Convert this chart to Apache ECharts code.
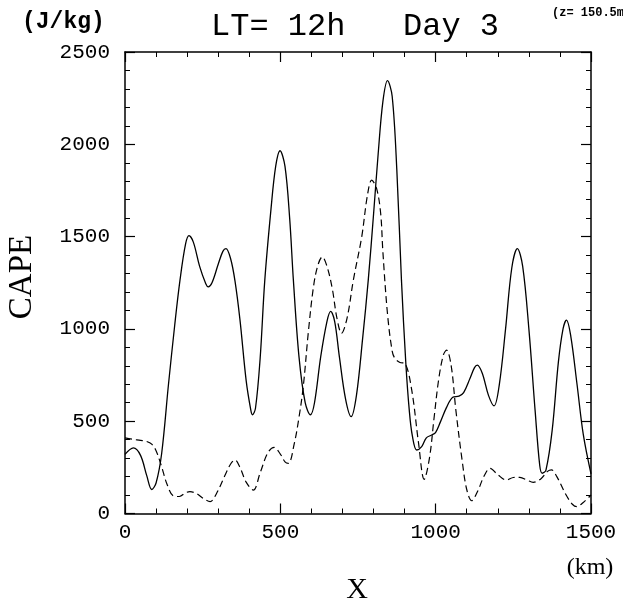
<!DOCTYPE html>
<html>
<head>
<meta charset="utf-8">
<script src="https://cdn.jsdelivr.net/npm/echarts@6/dist/echarts.min.js"></script>
<style>html,body{margin:0;padding:0;background:#fff;}#c{width:623px;height:610px;}</style>
</head>
<body>
<div id="c"></div>
<script>
// Solid curve (x in km, CAPE in J/kg)
const solidX = [0,27,50,70,86,100,118,140,160,177,195,206,220,240,260,268,280,300,315,325,340,354,370,390,405,410,420,435,450,470,485,499,515,530,542,560,580,597,610,630,650,662,675,690,710,728,745,765,783,800,815,830,845,860,875,890,904,915,925,939,955,970,987,1000,1015,1035,1055,1075,1090,1110,1125,1134,1150,1170,1188,1205,1225,1245,1263,1280,1300,1320,1335,1343,1355,1375,1395,1410,1421,1435,1455,1475,1500];
const solidY = [320,355,315,205,130,165,325,700,1020,1264,1460,1505,1470,1340,1245,1228,1250,1350,1420,1435,1380,1260,1050,720,560,535,570,840,1264,1650,1880,1965,1880,1600,1264,850,600,535,600,850,1040,1095,1040,850,620,525,640,950,1264,1620,1950,2230,2345,2260,1860,1260,813,560,420,344,362,410,425,440,495,575,630,636,655,730,790,804,760,640,583,700,1000,1330,1435,1340,1000,560,260,218,235,450,820,1000,1048,960,700,430,215];
// Dashed curve
const dashX = [0,25,50,70,86,100,118,135,156,175,195,209,230,255,274,295,320,340,354,370,390,413,435,460,480,500,515,526,545,560,574,590,606,620,635,650,667,682,697,715,735,762,780,794,810,823,830,845,860,869,885,901,923,945,963,980,995,1010,1025,1035,1050,1065,1085,1100,1116,1135,1155,1175,1200,1228,1250,1271,1295,1314,1340,1360,1373,1390,1420,1440,1454,1475,1500];
const dashY = [410,402,396,390,376,340,253,160,95,92,112,118,108,78,64,110,200,268,290,250,170,127,220,330,358,322,280,272,380,520,690,980,1220,1340,1390,1340,1220,1060,976,1060,1264,1499,1720,1806,1760,1625,1420,1080,880,840,818,813,668,380,185,300,520,730,860,885,800,560,290,130,69,120,200,245,210,181,195,196,180,169,190,228,236,200,100,50,37,60,100];
// Axis ticks
const xTicks = [0,500,1000,1500];
const yTicks = [0,500,1000,1500,2000,2500];

const solidData = solidX.map((x,i)=>[x, solidY[i]]);
const dashData = dashX.map((x,i)=>[x, dashY[i]]);

const chart = echarts.init(document.getElementById('c'), null, {renderer:'canvas'});
function lab(margin){ return {show:true, margin:margin, fontFamily:'Liberation Mono', fontSize:21, color:'#000', formatter:function(v){return String(v);}}; }
function tick(){ return {show:true, inside:true, length:10, lineStyle:{color:'#000', width:1.2}}; }
function minor(){ return {show:true, splitNumber:5, length:5, lineStyle:{color:'#000', width:1}}; }
function line(){ return {show:true, onZero:false, lineStyle:{color:'#000', width:1.5}}; }
function axis(pos, ticks, labelMargin){
  return {type:'value', min:ticks[0], max:ticks[ticks.length-1], interval:500, position:pos,
    axisLine:line(), axisTick:tick(), minorTick:minor(), splitLine:{show:false}, minorSplitLine:{show:false},
    axisLabel: labelMargin==null ? {show:false} : lab(labelMargin)};
}
chart.setOption({
  animation:false,
  backgroundColor:'#fff',
  grid:{left:125, top:52, right:32, bottom:96.5, containLabel:false},
  xAxis:[axis('bottom', xTicks, 8), axis('top', xTicks, null)],
  yAxis:[axis('left', yTicks, 15), axis('right', yTicks, null)],
  series:[
    {type:'line', data:solidData, smooth:0.35, showSymbol:false, clip:true,
     lineStyle:{color:'#000', width:1.3, type:'solid'}},
    {type:'line', data:dashData, smooth:0.35, showSymbol:false, clip:true,
     lineStyle:{color:'#000', width:1.2, type:[7,4]}}
  ],
  graphic:[
    {type:'text', x:211, y:27, style:{text:'LT= 12h   Day 3', font:'32px "Liberation Mono"', fill:'#000', textAlign:'left', textVerticalAlign:'middle'}},
    {type:'text', x:22, y:22, style:{text:'(J/kg)', font:'bold 23px "Liberation Mono"', fill:'#000', textAlign:'left', textVerticalAlign:'middle'}},
    {type:'text', x:552, y:13, style:{text:'(z= 150.5m)', font:'bold 12px "Liberation Mono"', fill:'#000', textAlign:'left', textVerticalAlign:'middle'}},
    {type:'text', x:22, y:277, rotation:Math.PI/2, style:{text:'CAPE', font:'33px "Liberation Serif"', fill:'#000', textAlign:'center', textVerticalAlign:'middle'}},
    {type:'text', x:590, y:568, style:{text:'(km)', font:'24px "Liberation Serif"', fill:'#000', textAlign:'center', textVerticalAlign:'middle'}},
    {type:'text', x:357, y:590, style:{text:'X', font:'30px "Liberation Serif"', fill:'#000', textAlign:'center', textVerticalAlign:'middle'}}
  ]
});
</script>
</body>
</html>
